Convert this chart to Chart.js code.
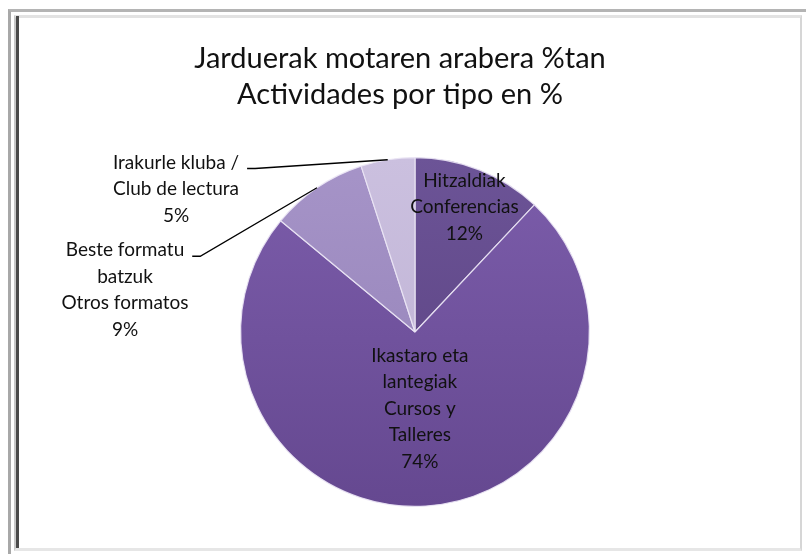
<!DOCTYPE html>
<html>
<head>
<meta charset="utf-8">
<script src="https://cdn.jsdelivr.net/npm/chart.js@4.4.1/dist/chart.umd.min.js"></script>
<style>
  body { margin: 0; background: #fff; }
  #wrap { position: relative; width: 806px; height: 554px; overflow: hidden; }
  #outer { position: absolute; left: 8px; top: 9px; width: 800px; height: 560px;
           border-left: 3px solid #a8a8a8; border-top: 3px solid #b4b4b4; }
  #inner { position: absolute; left: 14px; top: 15px; width: 784px; height: 530px;
           border-left: 2px solid #c8c8c8; border-top: 3px solid #e2e2e2;
           border-right: 2px solid #d6d6d6; border-bottom: 3px solid #e6e6e6; }
  #innerDark { position: absolute; left: 16px; top: 16px; width: 3px; height: 532px; background: #4a4a4a; }
  canvas { position: absolute; left: 0; top: 0; }
</style>
</head>
<body>
<div id="wrap">
  <div id="outer"></div>
  <div id="inner"></div>
  <div id="innerDark"></div>
  <canvas id="myChart" width="806" height="554"></canvas>
</div>
<script>
// chart title (two lines)
const titleLines = ['Jarduerak motaren arabera %tan', 'Actividades por tipo en %'];

// slices, clockwise from 12 o'clock
const categories = [
  ['Hitzaldiak', 'Conferencias'],
  ['Ikastaro eta', 'lantegiak', 'Cursos y', 'Talleres'],
  ['Beste formatu', 'batzuk', 'Otros formatos'],
  ['Irakurle kluba /', 'Club de lectura']
];
const percents = [12, 74, 9, 5];

const sliceTop = ['#6c5497', '#7c5dab', '#a694c8', '#cbc0df'];
const sliceBottom = ['#59407f', '#654890', '#9280b6', '#bcafd2'];

// where each label goes: inside at a fraction of the radius, or outside with an offset from the centre
const labelPlace = [
  { inside: true, r: 0.77 },
  { inside: true, r: 0.44 },
  { inside: false, dx: -290, dy: -42 },
  { inside: false, dx: -239, dy: -143 }
];

const FONT = 'Lato, "Open Sans", sans-serif';
const LINE_H = 26.5;

function sliceGradient(context) {
  const chart = context.chart;
  const area = chart.chartArea;
  if (!area) return sliceTop[context.dataIndex];
  const g = chart.ctx.createLinearGradient(0, area.top, 0, area.bottom);
  g.addColorStop(0, sliceTop[context.dataIndex]);
  g.addColorStop(1, sliceBottom[context.dataIndex]);
  return g;
}

const titlePlugin = {
  id: 'twoLineTitle',
  afterDraw(chart) {
    const ctx = chart.ctx;
    ctx.save();
    ctx.fillStyle = '#111';
    ctx.font = '29px ' + FONT;
    ctx.textAlign = 'center';
    ctx.textBaseline = 'middle';
    ctx.fillText(titleLines[0], 400, 59);
    ctx.fillText(titleLines[1], 400, 95);
    ctx.restore();
  }
};

const labelPlugin = {
  id: 'sliceLabels',
  afterDatasetsDraw(chart) {
    const ctx = chart.ctx;
    const arcs = chart.getDatasetMeta(0).data;
    ctx.save();
    ctx.font = '19px ' + FONT;
    ctx.fillStyle = '#111';
    ctx.textAlign = 'center';
    ctx.textBaseline = 'middle';
    arcs.forEach((arc, i) => {
      const p = arc.getProps(['x', 'y', 'startAngle', 'endAngle', 'outerRadius'], true);
      const mid = (p.startAngle + p.endAngle) / 2;
      const lines = categories[i].concat([percents[i] + '%']);
      const place = labelPlace[i];
      let cx, cy;
      if (place.inside) {
        cx = p.x + Math.cos(mid) * p.outerRadius * place.r;
        cy = p.y + Math.sin(mid) * p.outerRadius * place.r;
      } else {
        cx = p.x + place.dx;
        cy = p.y + place.dy;
      }
      const top = cy - (lines.length - 1) * LINE_H / 2;
      lines.forEach((t, k) => ctx.fillText(t, cx, top + k * LINE_H));
      if (!place.inside) {
        // leader line from first text line to slice edge
        const w = ctx.measureText(lines[0]).width;
        const sx = cx + w / 2 + 8;
        const sy = top + 6;
        const ex = p.x + Math.cos(mid) * p.outerRadius;
        const ey = p.y + Math.sin(mid) * p.outerRadius;
        ctx.beginPath();
        ctx.strokeStyle = '#000';
        ctx.lineWidth = 1.3;
        ctx.moveTo(sx, sy);
        ctx.lineTo(sx + 8, sy);
        ctx.lineTo(ex, ey);
        ctx.stroke();
      }
    });
    ctx.restore();
  }
};

const ctx = document.querySelector('#myChart').getContext('2d');
const chart = new Chart(ctx, {
  type: 'pie',
  data: {
    labels: categories.map(c => c.join(' ')),
    datasets: [{
      data: percents,
      backgroundColor: sliceGradient,
      borderColor: 'rgba(235,230,245,0.9)',
      borderWidth: 1.2
    }]
  },
  options: {
    responsive: false,
    animation: false,
    layout: { padding: { left: 240, right: 216, top: 157, bottom: 47 } },
    plugins: {
      legend: { display: false },
      title: { display: false },
      tooltip: { enabled: false }
    }
  },
  plugins: [titlePlugin, labelPlugin]
});
</script>
</body>
</html>
